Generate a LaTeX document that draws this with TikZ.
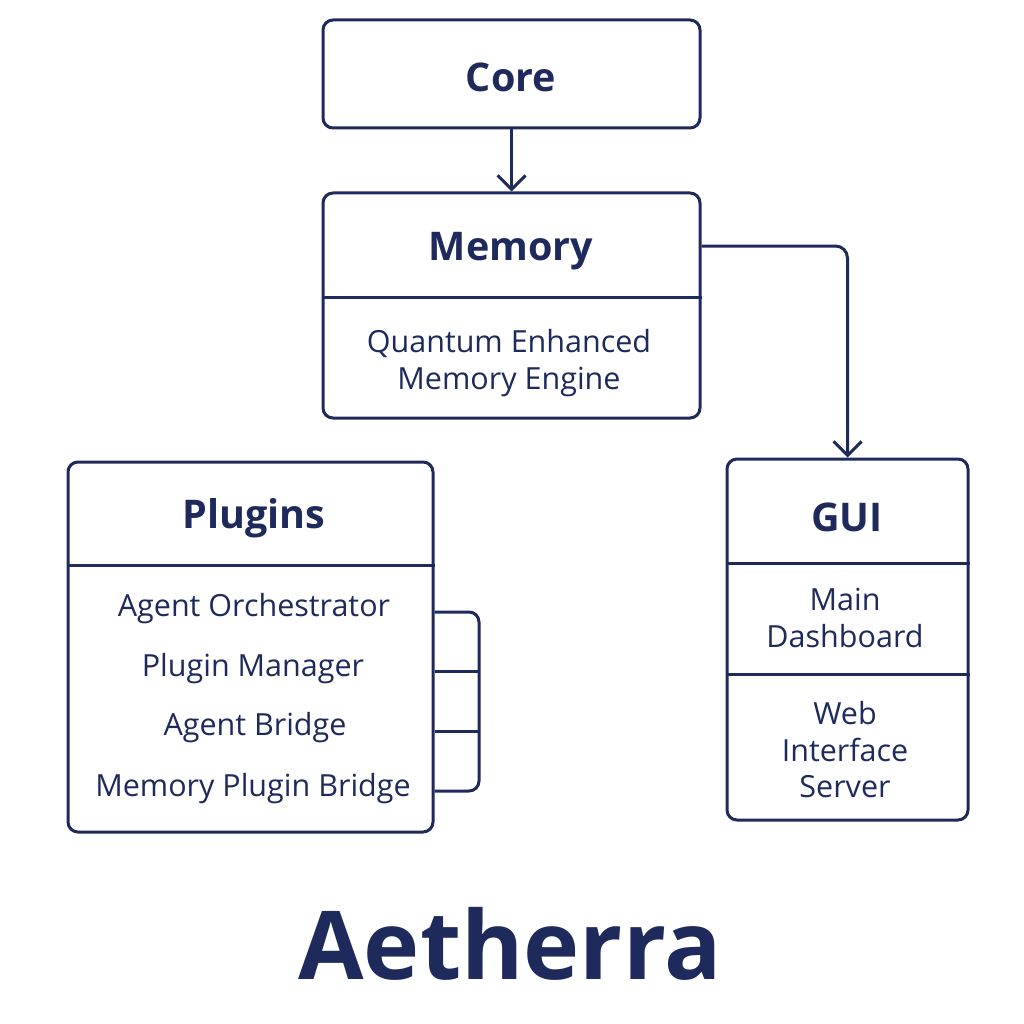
\documentclass[tikz,border=0pt]{standalone}
\usepackage{fontspec}
\setmainfont{Open Sans}
\usepackage{tikz}
\usetikzlibrary{arrows.meta, positioning, calc}
\definecolor{navy}{HTML}{1F2A5C}
\tikzset{box/.style={draw=navy, line width=3pt, rounded corners=10pt, inner sep=0pt}}
\tikzset{title/.style={text=navy, font=\fontsize{39.5}{46}\selectfont\bfseries}}
\tikzset{item/.style={text=navy, font=\fontsize{30.5}{36.5}\selectfont, align=center}}
\tikzset{link/.style={draw=navy, line width=3pt, -{Straight Barb[length=14pt, width=28pt, line width=3pt]}}}
\tikzset{rule/.style={draw=navy, line width=3pt}}

\begin{document}
\begin{tikzpicture}[x=1pt, y=-1pt]
      \useasboundingbox (0,0) rectangle (1024,1024);

      % boxes
      \node[box, minimum width=377pt, minimum height=108pt] (core) at (511.5,74) {};
      \node[box, minimum width=377pt, minimum height=225pt] (mem) at (511.5,305.5) {};
      \node[box, minimum width=365pt, minimum height=370pt] (plug) at (250.5,647) {};
      \node[box, minimum width=241pt, minimum height=361pt] (gui) at (847.5,639.5) {};

      % dividers
      \draw[rule] (mem.west |- 0,297) -- (mem.east |- 0,297);
      \draw[rule] (plug.west |- 0,565) -- (plug.east |- 0,565);
      \draw[rule] (gui.west |- 0,563) -- (gui.east |- 0,563);
      \draw[rule] (gui.west |- 0,674) -- (gui.east |- 0,674);

      % texts
      \node[title] (coret) at (511,77) {Core};
      \node[title] (memt) at (511,251) {Memory};
      \node[item] (meme) at (509,363) {Quantum Enhanced\\Memory Engine};
      \node[title] (plugt) at (254,518) {Plugins};
      \node[item] (p1) at (254,609) {Agent Orchestrator};
      \node[item] (p2) at (253,669) {Plugin Manager};
      \node[item] (p3) at (255,728) {Agent Bridge};
      \node[item] (p4) at (253,789) {Memory Plugin Bridge};
      \node[title] (guit) at (847,517) {GUI};
      \node[item] (g1) at (845,618) {Main\\Dashboard};
      \node[item] (g2) at (845,750) {Web\\Interface\\Server};

      \node[text=navy, font=\fontsize{95}{100}\selectfont\bfseries] (name) at (510,944) {Aetherra};

      % connectors
      \draw[link] (core.south) -- (mem.north);
      \coordinate (memout) at (mem.east |- 0,246);
      \draw[link, rounded corners=12pt] (memout) -| (gui.north);

      % plugin bracket
      \coordinate (b1) at (plug.east |- 0,612);
      \coordinate (b2) at (plug.east |- 0,671);
      \coordinate (b3) at (plug.east |- 0,731);
      \coordinate (b4) at (plug.east |- 0,791);
      \coordinate (r1) at (479,612);
      \coordinate (r2) at (479,671);
      \coordinate (r3) at (479,731);
      \coordinate (r4) at (479,791);
      \draw[rule, rounded corners=10pt] (b1) -- (r1) -- (r4) -- (b4);
      \draw[rule] (b2) -- (r2);
      \draw[rule] (b3) -- (r3);
\end{tikzpicture}
\end{document}
